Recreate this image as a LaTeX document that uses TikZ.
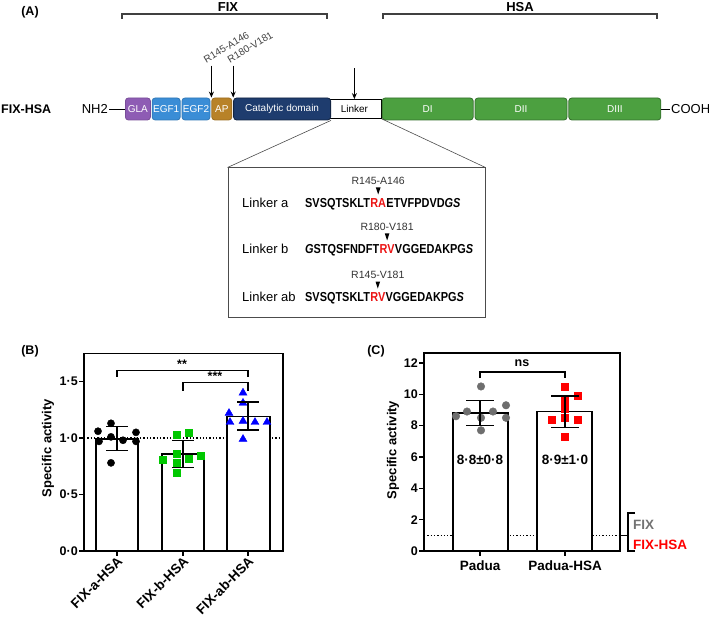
\documentclass[tikz,border=0pt]{standalone}
\usepackage{fontspec}
\setmainfont{Liberation Sans}
\newfontfamily\narrowseq[FakeStretch=0.84]{Liberation Sans}
\usetikzlibrary{arrows.meta,positioning,shapes.geometric,plotmarks}

\definecolor{glacol}{RGB}{142,92,180}
\definecolor{egfcol}{RGB}{58,141,214}
\definecolor{apcol}{RGB}{184,130,40}
\definecolor{catcol}{RGB}{30,60,110}
\definecolor{hsacol}{RGB}{76,160,64}
\definecolor{cutred}{RGB}{235,20,20}
\definecolor{ptgreen}{RGB}{0,200,0}
\definecolor{ptgrey}{RGB}{110,110,110}

\tikzset{
  panel/.style={font=\bfseries\fontsize{12.5}{14}\selectfont, inner sep=0pt},
  grouplbl/.style={font=\bfseries\fontsize{13}{15}\selectfont},
  protdom/.style={rectangle, rounded corners=3pt, minimum height=22pt, inner sep=0pt,
    text=white, line width=0.8pt, font=\fontsize{10}{12}\selectfont},
  cutarrow/.style={-{Stealth[length=6pt,width=5pt]}, line width=1.2pt},
  cutlbl/.style={rotate=31, anchor=south west, inner sep=0pt, text=black!75,
    font=\fontsize{10}{12}\selectfont},
  seqtxt/.style={anchor=base west, inner sep=0pt, font=\narrowseq\bfseries\fontsize{13}{15}\selectfont},
  rowlbl/.style={anchor=base west, inner sep=0pt, font=\fontsize{13}{15}\selectfont},
  sitelbl/.style={anchor=base, inner sep=0pt, text=black!80, font=\fontsize{10.5}{12}\selectfont},
  frameline/.style={line width=1.4pt, line cap=rect},
  barbox/.style={draw, fill=white, line width=1.4pt},
  errbar/.style={line width=1.4pt},
  ticklbl/.style={font=\bfseries\fontsize{12.5}{14}\selectfont, inner sep=0pt},
  axlbl/.style={rotate=90, font=\bfseries\fontsize{13}{15}\selectfont},
  catlbl/.style={font=\bfseries\fontsize{13.5}{15}\selectfont},
  sigline/.style={line width=1.2pt},
}

\begin{document}
\begin{tikzpicture}[x=1pt, y=-1pt]
\useasboundingbox (0,0) rectangle (709,620);

% (A) fusion construct
\node[panel] (pa) at (30,12) {(A)};
\node[grouplbl] (fixt) at (228,7) {FIX};
\node[grouplbl] (hsat) at (520,7) {HSA};
\draw[line width=1.3pt, black!75] (122,19) -- (122,14) -- (327,14) -- (327,19);
\draw[line width=1.3pt, black!75] (383,19) -- (383,14) -- (657,14) -- (657,19);

\node[anchor=west, inner sep=0pt, font=\bfseries\fontsize{12.5}{14}\selectfont] (fixhsa) at (1,109) {FIX-HSA};
\node[anchor=east, inner sep=1pt, font=\fontsize{13}{15}\selectfont] (nh2) at (109,109) {NH2};
\node[protdom, fill=glacol, draw=glacol!85!black, minimum width=25pt, anchor=west] (gla) at (125,109) {GLA};
\node[protdom, fill=egfcol, draw=egfcol!85!black, minimum width=28pt, right=1pt of gla] (egf1) {EGF1};
\node[protdom, fill=egfcol, draw=egfcol!85!black, minimum width=28pt, right=1pt of egf1] (egf2) {EGF2};
\node[protdom, fill=apcol, draw=apcol!85!black, minimum width=20pt, right=1pt of egf2] (ap) {AP};
\node[rectangle, draw, fill=white, line width=0.8pt, minimum width=54pt, minimum height=19pt, inner sep=0pt,
  font=\fontsize{10}{12}\selectfont, anchor=west] (lnk) at (327,109) {Linker};
\node[protdom, fill=catcol, draw=catcol!60!black, minimum width=97pt, right=1pt of ap] (cat) {Catalytic domain};
\node[protdom, fill=hsacol, draw=hsacol!70!black, minimum width=91pt, right=0pt of lnk] (d1) {DI};
\node[protdom, fill=hsacol, draw=hsacol!70!black, minimum width=92pt, right=1pt of d1] (d2) {DII};
\node[protdom, fill=hsacol, draw=hsacol!70!black, minimum width=92pt, right=1pt of d2] (d3) {DIII};
\node[anchor=west, inner sep=1pt, font=\fontsize{13}{15}\selectfont] (cooh) at (670,109) {COOH};
\draw[line width=0.9pt] (nh2) -- (gla);
\draw[line width=0.9pt] (d3) -- (cooh);

% cleavage sites
\draw[cutarrow] ([yshift=32pt]ap.north west) coordinate (c1) -- (ap.north west);
\draw[cutarrow] ([yshift=32pt]cat.north west) coordinate (c2) -- (cat.north west);
\draw[cutarrow] ([yshift=31pt]lnk.north) coordinate (c3) -- (lnk.north);
\node[cutlbl] (c1l) at ([xshift=-5pt,yshift=2pt]c1) {R145-A146};
\node[cutlbl] (c2l) at ([xshift=-3pt,yshift=2pt]c2) {R180-V181};

% linker detail
\node[draw=black!70, line width=1pt, minimum width=257pt, minimum height=149pt, inner sep=0pt] (lbox) at (356.5,242.5) {};
\draw[line width=0.6pt, black!70] (cat.south east) -- (lbox.north west);
\draw[line width=0.6pt, black!70] (lnk.south east) -- (lbox.north east);

\coordinate (r1) at (305,207.5);
\coordinate (r2) at (305,253.5);
\coordinate (r3) at (305,301.5);

\node[rowlbl] (l1) at ([xshift=-63pt]r1) {Linker a};
\node[seqtxt] (s1a) at (r1) {SVSQTSKLT};
\node[seqtxt, text=cutred] (s1b) at (s1a.base east) {RA};
\node[seqtxt] (s1c) at (s1b.base east) {ETVFPDVD\textit{GS}};

\node[rowlbl] (l2) at ([xshift=-63pt]r2) {Linker b};
\node[seqtxt] (s2a) at (r2) {\textit{G}STQSFNDFT};
\node[seqtxt, text=cutred] (s2b) at (s2a.base east) {RV};
\node[seqtxt] (s2c) at (s2b.base east) {VGGEDAKPG\textit{S}};

\node[rowlbl] (l3) at ([xshift=-63pt]r3) {Linker ab};
\node[seqtxt] (s3a) at (r3) {SVSQTSKLT};
\node[seqtxt, text=cutred] (s3b) at (s3a.base east) {RV};
\node[seqtxt] (s3c) at (s3b.base east) {VGGEDAKPG\textit{S}};

\foreach \s/\t [count=\i] in {s1b/R145-A146, s2b/R180-V181, s3b/R145-V181}{
  \fill ([xshift=-2.3pt,yshift=20pt]\s.base) -- ([xshift=2.3pt,yshift=20pt]\s.base) -- ([yshift=13pt]\s.base) -- cycle;
  \node[sitelbl] (site\i) at ([yshift=22.5pt]\s.base) {\t};
}

% (B) specific activity of linker variants
\node[panel] (pb) at (30,351) {(B)};
\begin{scope}[shift={(0,551)}, y=113pt]
  \draw[dotted, line width=1.3pt] (84,1) -- (283,1);
  \draw[barbox] (96,0) rectangle (138,0.99);
  \draw[barbox] (162,0) rectangle (204,0.86);
  \draw[barbox] (227,0) rectangle (270,1.19);
  \draw[frameline] (84,0) rectangle (283,1.75);
  \foreach \val/\txt [count=\i] in {0/0·0, 0.5/0·5, 1/1·0, 1.5/1·5}{
    \draw[frameline] (84,\val) -- (80,\val);
    \node[ticklbl, anchor=east] (yb\i) at (78,\val) {\txt};
  }
  \foreach \xx/\txt [count=\i] in {117/FIX-a-HSA, 183/FIX-b-HSA, 248/FIX-ab-HSA}{
    \draw[frameline] (\xx,0) -- ++(0,-4pt);
    \node[catlbl, rotate=45, anchor=east, inner sep=0pt] (xb\i) at ([xshift=3pt,yshift=-8pt]\xx,0) {\txt};
  }
  \node[axlbl] (ylb) at (48,0.91) {Specific activity};
  % points
  \draw[black] plot[only marks, mark=*, mark size=3.6pt] coordinates
    {(98,1.06) (111,1.13) (136,1.05) (99,0.97) (111,1.01) (123,0.98) (136,0.97) (111,0.78)};
  \draw[ptgreen] plot[only marks, mark=square*, mark size=3.4pt] coordinates
    {(163,0.81) (177,1.03) (189,1.05) (177,0.86) (177,0.78) (189,0.82) (201,0.84) (177,0.69)};
  \draw[blue] plot[only marks, mark=triangle*, mark size=4.6pt] coordinates
    {(229,1.22) (243,1.40) (243,1.31) (230,1.14) (243,1.15) (255,1.14) (267,1.14) (243,0.99)};
  % mean +- sd
  \foreach \xx/\lo/\hi in {117/0.89/1.10, 183/0.74/0.98, 248/1.07/1.32}{
    \draw[errbar] (\xx,\lo) -- (\xx,\hi);
    \draw[errbar] (\xx-11,\lo) -- (\xx+11,\lo);
    \draw[errbar] (\xx-11,\hi) -- (\xx+11,\hi);
  }
  % significance
  \draw[sigline] (117,1.54) -- (117,1.60) -- (248,1.60) -- (248,1.54);
  \node[ticklbl, anchor=base] (s2star) at (182,1.615) {**};
  \draw[sigline] (183,1.42) -- (183,1.49) -- (248,1.49) -- (248,1.42);
  \node[ticklbl, anchor=base] (s3star) at (215,1.505) {***};
\end{scope}

% (C) Padua variants
\node[panel] (pc) at (376,351) {(C)};
\begin{scope}[shift={(0,551)}, y=15.67pt]
  \draw[dotted, line width=1.3pt] (424,1) -- (620,1);
  \draw[barbox] (453,0) rectangle (508,8.8);
  \draw[barbox] (537,0) rectangle (592,8.9);
  \draw[frameline] (424,0) rectangle (620,12.64);
  \foreach \val [count=\i] in {0,2,...,12}{
    \draw[frameline] (424,\val) -- (420,\val);
    \node[ticklbl, anchor=east] (yc\i) at (418,\val) {\val};
  }
  \foreach \xx/\txt [count=\i] in {480/Padua, 565/Padua-HSA}{
    \draw[frameline] (\xx,0) -- ++(0,-4pt);
    \node[catlbl] (xc\i) at (\xx,-0.96) {\txt};
  }
  \node[axlbl] (ylc) at (393,6.45) {Specific activity};
  \draw[ptgrey] plot[only marks, mark=*, mark size=3.8pt] coordinates
    {(481,10.5) (456,8.6) (467,8.9) (481,8.5) (493,8.9) (506,9.3) (506,8.5) (481,7.7)};
  \draw[red] plot[only marks, mark=square*, mark size=3.6pt] coordinates
    {(565,10.5) (578,9.9) (565,9.6) (565,9.1) (552,8.4) (565,8.5) (578,8.4) (565,7.3)};
  \foreach \xx/\lo/\hi in {480/8.0/9.6, 565/7.9/9.9}{
    \draw[errbar] (\xx,\lo) -- (\xx,\hi);
    \draw[errbar] (\xx-14,\lo) -- (\xx+14,\lo);
    \draw[errbar] (\xx-14,\hi) -- (\xx+14,\hi);
  }
  \node[catlbl] (m1) at (480,5.8) {8·8±0·8};
  \node[catlbl] (m2) at (565,5.8) {8·9±1·0};
  \draw[sigline] (480,11.04) -- (480,11.42) -- (565,11.42) -- (565,11.04);
  \node[ticklbl, anchor=base] (nst) at (522,11.8) {ns};
  % reference level
  \draw[line width=1.2pt] (620,1) -- (628,1);
  \draw[line width=1.4pt] (635,2.42) -- (628,2.42) -- (628,0) -- (635,0);
  \node[catlbl, anchor=west, text=black!55, inner sep=0pt] (rfix) at (633,1.66) {FIX};
  \node[catlbl, anchor=west, text=red, inner sep=0pt] (rfixhsa) at (633,0.38) {FIX-HSA};
\end{scope}
\end{tikzpicture}
\end{document}
